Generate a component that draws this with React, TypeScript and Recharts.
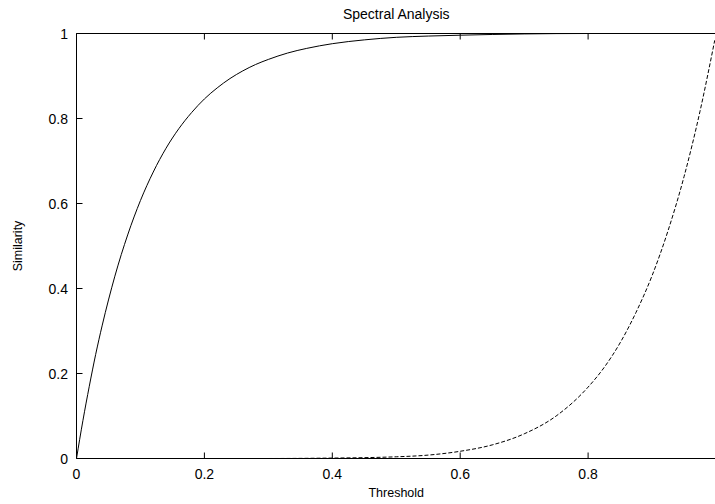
import React from 'react';
import { LineChart, Line, XAxis, YAxis } from 'recharts';

// Solid curve (rising quickly to 1)
const solidX = [0, 0.01, 0.02, 0.03, 0.04, 0.05, 0.06, 0.08, 0.1, 0.12, 0.14, 0.16, 0.18, 0.2, 0.22, 0.24, 0.26, 0.28, 0.3, 0.33, 0.36, 0.4, 0.45, 0.5, 0.55, 0.6, 0.7, 0.8, 0.9, 1.0];
const solidY = [0, 0.089, 0.17, 0.245, 0.312, 0.373, 0.429, 0.526, 0.607, 0.674, 0.73, 0.776, 0.814, 0.846, 0.872, 0.894, 0.912, 0.927, 0.939, 0.954, 0.965, 0.976, 0.985, 0.991, 0.994, 0.996, 0.999, 1.0, 1.0, 1.0];

// Dashed curve (flat, then rising sharply near 1)
const dashedX = [0, 0.1, 0.2, 0.3, 0.4, 0.45, 0.5, 0.55, 0.6, 0.65, 0.7, 0.75, 0.8, 0.825, 0.85, 0.875, 0.9, 0.925, 0.95, 0.975, 0.998];
const dashedY = [0, 0, 0, 0, 0.001, 0.002, 0.004, 0.008, 0.017, 0.032, 0.058, 0.1, 0.168, 0.214, 0.272, 0.344, 0.43, 0.536, 0.663, 0.817, 0.984];

const xTicks = [0, 0.2, 0.4, 0.6, 0.8];
const yTicks = [0, 0.2, 0.4, 0.6, 0.8, 1];
const titleText = 'Spectral Analysis';
const xLabelText = 'Threshold';
const yLabelText = 'Similarity';

const solidData = solidX.map((x, i) => ({ x, y: solidY[i] }));
const dashedData = dashedX.map((x, i) => ({ x, y: dashedY[i] }));

const FONT = '"Liberation Sans", Arial, Helvetica, sans-serif';
const TL = 6;
const TICK_FS = 14;
const LABEL_FS = 12.5;

const BottomTick = (p: any) => (
  <g>
    <line x1={p.x} x2={p.x} y1={p.y} y2={p.y - TL} stroke="#000" strokeWidth={1} />
    <text x={p.x} y={p.y + 15} textAnchor="middle" dominantBaseline="central" fontSize={TICK_FS} fill="#000" fontFamily={FONT}>
      {String(p.payload.value)}
    </text>
  </g>
);
const LeftTick = (p: any) => (
  <g>
    <line x1={p.x} x2={p.x + TL} y1={p.y} y2={p.y} stroke="#000" strokeWidth={1} />
    <text x={p.x - 8.5} y={p.y} textAnchor="end" dominantBaseline="central" fontSize={TICK_FS} fill="#000" fontFamily={FONT}>
      {String(p.payload.value)}
    </text>
  </g>
);
const TopTick = (p: any) => (
  <line x1={p.x} x2={p.x} y1={p.y} y2={p.y + TL} stroke="#000" strokeWidth={1} />
);
const RightTick = (p: any) => (
  <line x1={p.x} x2={p.x - TL} y1={p.y} y2={p.y} stroke="#000" strokeWidth={1} />
);

export default function App() {
  return (
    <div style={{ position: 'absolute', left: 0, top: 0, width: 715, height: 504, overflow: 'hidden', background: '#fff' }}>
      <LineChart width={716} height={504} margin={{ top: 32.5, right: 0, bottom: 0, left: 0 }}>
        <XAxis
          xAxisId="b"
          type="number"
          dataKey="x"
          domain={[0, 1]}
          allowDataOverflow
          ticks={xTicks}
          height={45.5}
          tickSize={0}
          tickMargin={0}
          tickLine={false}
          axisLine={{ stroke: '#000', strokeWidth: 1 }}
          tick={<BottomTick />}
          interval={0}
          label={{
            content: (lp: any) => {
              const vb = lp.viewBox;
              return (
                <text x={vb.x + vb.width / 2} y={493} textAnchor="middle" dominantBaseline="central" fontSize={LABEL_FS} fill="#000" fontFamily={FONT}>
                  {xLabelText}
                </text>
              );
            },
          }}
        />
        <XAxis
          xAxisId="t"
          orientation="top"
          type="number"
          dataKey="x"
          domain={[0, 1]}
          allowDataOverflow
          ticks={xTicks}
          height={1}
          tickSize={0}
          tickMargin={0}
          tickLine={false}
          axisLine={{ stroke: '#000', strokeWidth: 1 }}
          tick={<TopTick />}
          interval={0}
          label={{
            content: (lp: any) => {
              const vb = lp.viewBox;
              return (
                <text x={vb.x + vb.width / 2} y={14} textAnchor="middle" dominantBaseline="central" fontSize={14} fill="#000" fontFamily={FONT}>
                  {titleText}
                </text>
              );
            },
          }}
        />
        <YAxis
          yAxisId="l"
          type="number"
          domain={[0, 1]}
          allowDataOverflow
          ticks={yTicks}
          width={76.5}
          tickSize={0}
          tickMargin={0}
          tickLine={false}
          axisLine={{ stroke: '#000', strokeWidth: 1 }}
          tick={<LeftTick />}
          interval={0}
          label={{
            content: (lp: any) => {
              const vb = lp.viewBox;
              const cy = vb.y + vb.height / 2;
              return (
                <text x={18} y={cy} transform={`rotate(-90, 18, ${cy})`} textAnchor="middle" dominantBaseline="central" fontSize={LABEL_FS} fill="#000" fontFamily={FONT}>
                  {yLabelText}
                </text>
              );
            },
          }}
        />
        <YAxis
          yAxisId="r"
          orientation="right"
          type="number"
          domain={[0, 1]}
          allowDataOverflow
          ticks={yTicks}
          width={0}
          tickSize={0}
          tickMargin={0}
          tickLine={false}
          axisLine={{ stroke: '#000', strokeWidth: 1 }}
          tick={<RightTick />}
          interval={0}
        />
        <Line
          xAxisId="b"
          yAxisId="l"
          data={solidData}
          dataKey="y"
          type="monotone"
          stroke="#000"
          strokeWidth={1}
          dot={false}
          activeDot={false}
          isAnimationActive={false}
        />
        <Line
          xAxisId="b"
          yAxisId="l"
          data={dashedData}
          dataKey="y"
          type="monotone"
          stroke="#000"
          strokeWidth={1}
          strokeDasharray="4 2"
          dot={false}
          activeDot={false}
          isAnimationActive={false}
        />
      </LineChart>
    </div>
  );
}
